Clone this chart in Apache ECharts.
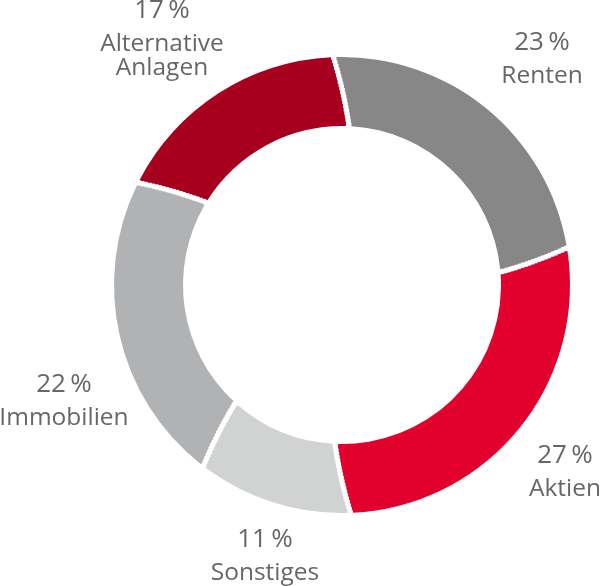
<!DOCTYPE html>
<html>
<head>
<meta charset="utf-8">
<script src="https://cdn.jsdelivr.net/npm/echarts@6/dist/echarts.min.js"></script>
<style>
html,body{margin:0;padding:0;background:#fff;}
#chart{width:602px;height:586px;}
</style>
</head>
<body>
<div id="chart"></div>
<script>
// ---- data ----
const categories = ['Renten', 'Aktien', 'Sonstiges', 'Immobilien', 'Alternative\nAnlagen'];
const values = [23, 27, 11, 22, 17];
const colors = ['#878787', '#e2002d', '#d1d3d2', '#b1b2b4', '#a7001f'];

// ---- layout (not data) ----
const CX = 342, CY = 285;
const R_OUT = 228, R_IN = 159;
const START_OUT = -2.2;   // degrees clockwise from 12 o'clock at the outer edge
const TWIST = 4.7;        // extra clockwise rotation of the slice edges at the inner edge
const GAP = 5.5;          // px white gap between slices
const RINGS = 20;
// label block centre offsets from the pie centre, per category
const labelOffsets = [[200, -230], [223, 183], [-77, 267], [-278, 112], [-180, -250]];

const total = values.reduce((a, b) => a + b, 0);
const FONT = "'Open Sans', 'Noto Sans', sans-serif";
const TEXT = '#676767';

const chart = echarts.init(document.getElementById('chart'), null, {renderer: 'canvas'});

const series = [];
const band = (R_OUT - R_IN) / RINGS;
for (let k = 0; k < RINGS; k++) {
  const rOut = R_OUT - k * band;
  const rIn = rOut - band;
  const rMid = (rOut + rIn) / 2;
  const s = START_OUT + TWIST * (R_OUT - rMid) / (R_OUT - R_IN);
  const gDeg = GAP / rMid * 180 / Math.PI;
  const data = [];
  categories.forEach((c, i) => {
    data.push({
      name: c,
      value: values[i] / total * 360 - gDeg,
      itemStyle: {color: colors[i]}
    });
    data.push({
      name: '',
      value: gDeg,
      itemStyle: {color: 'rgba(0,0,0,0)'},
      label: {show: false}
    });
  });
  series.push({
    type: 'pie',
    center: [CX, CY],
    radius: [rIn, k === 0 ? rOut : rOut + 1],
    startAngle: 90 - (s + gDeg / 2),
    clockwise: true,
    avoidLabelOverlap: false,
    silent: true,
    animation: false,
    emphasis: {disabled: true},
    itemStyle: {borderWidth: 0},
    data: data,
    z: 2 + k,
    label: k === 0 ? {
      show: true,
      position: 'outside',
      color: TEXT,
      fontFamily: FONT,
      formatter: p => {
        const i = Math.floor(p.dataIndex / 2);
        const pct = Math.round(values[i] / total * 100);
        const lines = categories[i].split('\n').map(t => '{n|' + t + '}').join('\n');
        return '{p|' + pct + '\u2009%}\n' + lines;
      },
      rich: {
        p: {fontSize: 26, lineHeight: 43, color: TEXT, fontFamily: FONT},
        n: {fontSize: 24.5, lineHeight: 24, color: TEXT, fontFamily: FONT}
      }
    } : {show: false},
    labelLine: {show: false},
    labelLayout: k === 0 ? function (params) {
      const i = Math.floor(params.dataIndex / 2);
      const off = labelOffsets[i];
      return {
        x: CX + off[0],
        y: CY + off[1],
        align: 'center',
        verticalAlign: 'middle'
      };
    } : undefined
  });
}

chart.setOption({
  animation: false,
  backgroundColor: '#ffffff',
  series: series
});
</script>
</body>
</html>
